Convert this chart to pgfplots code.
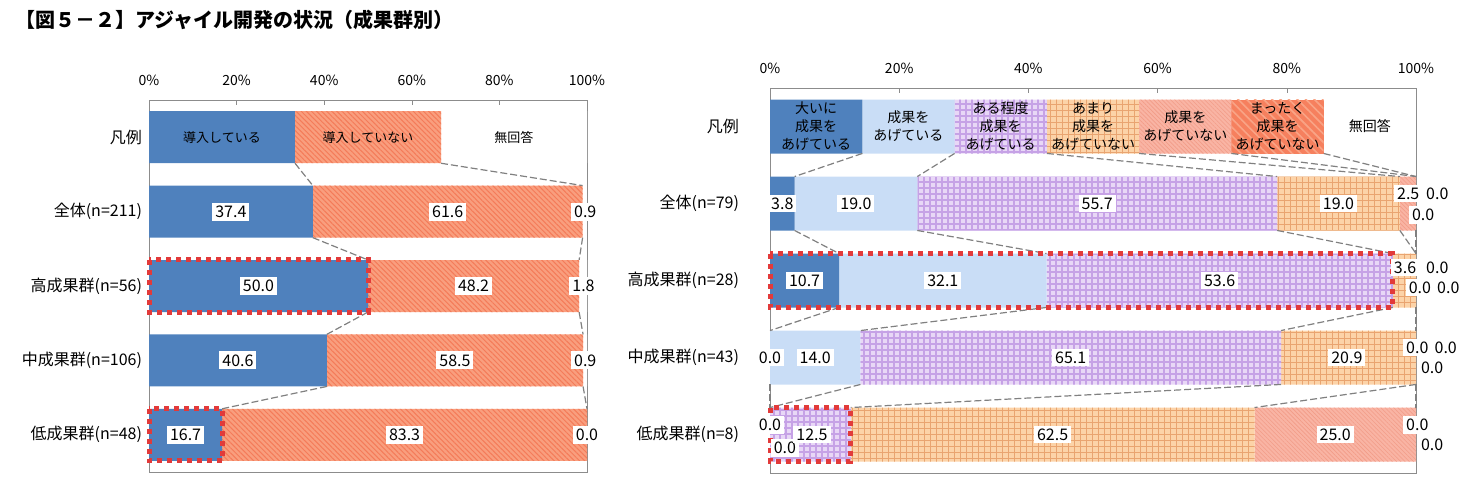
\documentclass[border=0pt]{standalone}
\usepackage{fontspec}
\setmainfont{Noto Sans CJK JP}
\usepackage{pgfplots}
\pgfplotsset{compat=1.18}
\usetikzlibrary{patterns.meta}

\definecolor{cBlue}{HTML}{4F81BD}
\definecolor{cLight}{HTML}{C9DDF6}
\definecolor{cLav}{HTML}{E8D7F6}
\definecolor{cLavL}{HTML}{C6A2E6}
\definecolor{cOra}{HTML}{FCD3A8}
\definecolor{cOraL}{HTML}{E9A470}
\definecolor{cPink}{HTML}{F9B4A4}
\definecolor{cPinkL}{HTML}{F29C88}
\definecolor{cRed}{HTML}{F6805E}
\definecolor{cRedL}{HTML}{F9A486}
\definecolor{cSal}{HTML}{F99E7E}
\definecolor{cSalL}{HTML}{F47B59}
\definecolor{cHi}{HTML}{E23A3A}

\pgfplotsset{
  geom/.style={scale only axis, anchor=north west,
    xmin=0, xmax=100, ymin=-0.5, ymax=4.5, y dir=reverse, clip=false},
  rowchart/.style={
    geom, xbar stacked,
    axis line style={draw=black!45},
    ytick={0,...,4}, ytick style={draw=none},
    xtick={0,20,...,100}, xtick pos=right, xticklabel pos=right,
    tick align=inside, major tick length=2.5pt, xtick style={draw=black!45},
    xticklabel={\pgfmathprintnumber{\tick}\%},
    xticklabel style={font=\fontsize{7}{8}\selectfont, yshift=3.5pt},
    yticklabel style={font=\fontsize{8}{9}\selectfont},
    /pgf/number format/assume math mode=true,
  },
  notes/.style={geom, hide axis},
}
\tikzset{
  vl/.style={fill=white, inner sep=1.5pt, font=\fontsize{8}{9}\selectfont},
  hl/.style={draw=cHi, line width=2.5pt, dash pattern=on 2.5pt off 2.5pt},
  conn/.style={draw=black!50, line width=0.6pt, dash pattern=on 3.5pt off 1.5pt},
}

\begin{document}
\begin{tikzpicture}[x=1pt,y=1pt]
\useasboundingbox (0,0) rectangle (736,-241);
\node[anchor=west, font=\bfseries\fontsize{10}{12}\selectfont] at (4,-10) {【図５－２】アジャイル開発の状況（成果群別）};

% left: 導入状況 (bars)
\begin{axis}[rowchart, at={(74.5pt,-50pt)}, width=219pt, height=186pt, bar width=26pt,
  yticklabels={{凡例},{全体(n=211)},{高成果群(n=56)},{中成果群(n=106)},{低成果群(n=48)}}]
\addplot[fill=cBlue, draw=none] coordinates {(33.33,0) (37.4,1) (50.0,2) (40.6,3) (16.7,4)};
\addplot[fill=cSal, draw=none, postaction={pattern color=cSalL, pattern={Lines[angle=-45,distance=1.8pt,line width=0.5pt]}}]
  coordinates {(33.34,0) (61.6,1) (48.2,2) (58.5,3) (83.3,4)};
\addplot[fill=white, draw=none] coordinates {(33.33,0) (0.9,1) (1.8,2) (0.9,3) (0.0,4)};
\end{axis}

% left: labels, connectors, highlight
\begin{axis}[notes, at={(74.5pt,-50pt)}, width=219pt, height=186pt]
\foreach \a/\b/\r in {33.33/37.4/0, 66.67/99.0/0, 37.4/50/1, 99.0/98.2/1,
                      50/40.6/2, 98.2/99.1/2, 40.6/16.7/3, 99.1/100/3}{
  \edef\temp{\noexpand\draw[conn] (axis cs:\a,\r.35) -- (axis cs:\b,\r.65);}\temp}

\draw[hl] (axis cs:0,1.65) rectangle (axis cs:50,2.35);
\draw[hl] (axis cs:0,3.65) rectangle (axis cs:16.7,4.35);

\node[font=\fontsize{6.5}{7}\selectfont] at (axis cs:16.67,0) {導入している};
\node[font=\fontsize{6.5}{7}\selectfont] at (axis cs:50,0) {導入していない};
\node[font=\fontsize{6.5}{7}\selectfont] at (axis cs:83.33,0) {無回答};

\node[vl] at (axis cs:18.7,1) {37.4};
\node[vl] at (axis cs:68.2,1) {61.6};
\node[vl] at (axis cs:99.6,1) {0.9};
\node[vl] at (axis cs:25,2) {50.0};
\node[vl] at (axis cs:74.1,2) {48.2};
\node[vl] at (axis cs:99.2,2) {1.8};
\node[vl] at (axis cs:20.3,3) {40.6};
\node[vl] at (axis cs:69.85,3) {58.5};
\node[vl] at (axis cs:99.6,3) {0.9};
\node[vl] at (axis cs:8.35,4) {16.7};
\node[vl] at (axis cs:58.35,4) {83.3};
\node[vl] at (axis cs:100,4) {0.0};
\end{axis}

% right: 成果の状況 (bars)
\begin{axis}[rowchart, at={(385pt,-44pt)}, width=323pt, height=192.5pt, bar width=27pt,
  yticklabel style={xshift=-12pt},
  yticklabels={{凡例},{全体(n=79)},{高成果群(n=28)},{中成果群(n=43)},{低成果群(n=8)}}]
\addplot[fill=cBlue, draw=none] coordinates {(14.286,0) (3.8,1) (10.7,2) (0.0,3) (0.0,4)};
\addplot[fill=cLight, draw=none] coordinates {(14.286,0) (19.0,1) (32.1,2) (14.0,3) (0.0,4)};
\addplot[fill=cLav, draw=none, postaction={pattern color=cLavL, pattern={Hatch[angle=0,distance=3pt,line width=0.8pt]}}]
  coordinates {(14.286,0) (55.7,1) (53.6,2) (65.1,3) (12.5,4)};
\addplot[fill=cOra, draw=none, postaction={pattern color=cOraL, pattern={Hatch[angle=0,distance=3pt,line width=0.4pt]}}]
  coordinates {(14.286,0) (19.0,1) (3.6,2) (20.9,3) (62.5,4)};
\addplot[fill=cPink, draw=none, postaction={pattern color=cPinkL, pattern={Lines[angle=-45,distance=1.5pt,line width=0.3pt]}}]
  coordinates {(14.286,0) (2.5,1) (0.0,2) (0.0,3) (25.0,4)};
\addplot[fill=cRed, draw=none, postaction={pattern color=cRedL, pattern={Lines[angle=-45,distance=3pt,line width=0.8pt]}}]
  coordinates {(14.286,0) (0.0,1) (0.0,2) (0.0,3) (0.0,4)};
\addplot[fill=white, draw=none] coordinates {(14.284,0) (0.0,1) (0.0,2) (0.0,3) (0.0,4)};
\end{axis}

% right: labels, connectors, highlight
\begin{axis}[notes, at={(385pt,-44pt)}, width=323pt, height=192.5pt]
\foreach \a/\b/\r in {14.29/3.8/0, 28.57/22.8/0, 42.86/78.5/0, 57.14/97.5/0, 71.43/100/0, 85.71/100/0,
                      3.8/10.7/1, 22.8/42.8/1, 78.5/96.4/1, 97.5/100/1, 100/100/1,
                      10.7/0/2, 42.8/14/2, 96.4/79.1/2, 100/100/2,
                      0/0/3, 14/0/3, 79.1/12.5/3, 100/75/3, 100/100/3}{
  \edef\temp{\noexpand\draw[conn] (axis cs:\a,\r.35) -- (axis cs:\b,\r.65);}\temp}

\draw[hl] (axis cs:0,1.65) rectangle (axis cs:96.4,2.35);
\draw[hl] (axis cs:0,3.65) rectangle (axis cs:12.5,4.35);

\node[align=center, font=\fontsize{7}{9}\selectfont] at (axis cs:7.14,0) {大いに\\成果を\\あげている};
\node[align=center, font=\fontsize{7}{9}\selectfont] at (axis cs:21.43,0) {成果を\\あげている};
\node[align=center, font=\fontsize{7}{9}\selectfont] at (axis cs:35.71,0) {ある程度\\成果を\\あげている};
\node[align=center, font=\fontsize{7}{9}\selectfont] at (axis cs:50.0,0) {あまり\\成果を\\あげていない};
\node[align=center, font=\fontsize{7}{9}\selectfont] at (axis cs:64.29,0) {成果を\\あげていない};
\node[align=center, font=\fontsize{7}{9}\selectfont] at (axis cs:78.57,0) {まったく\\成果を\\あげていない};
\node[align=center, font=\fontsize{7}{9}\selectfont] at (axis cs:92.86,0) {無回答};

\node[vl] at (axis cs:1.9,1) {3.8};
\node[vl] at (axis cs:13.3,1) {19.0};
\node[vl] at (axis cs:50.65,1) {55.7};
\node[vl] at (axis cs:88.0,1) {19.0};
\node[vl] at (axis cs:98.8,0.87) {2.5};
\node[vl] at (axis cs:103.3,0.87) {0.0};
\node[vl] at (axis cs:101.1,1.15) {0.0};

\node[vl] at (axis cs:5.35,2) {10.7};
\node[vl] at (axis cs:26.75,2) {32.1};
\node[vl] at (axis cs:69.6,2) {53.6};
\node[vl] at (axis cs:98.3,1.83) {3.6};
\node[vl] at (axis cs:103.3,1.83) {0.0};
\node[vl] at (axis cs:100.6,2.09) {0.0};
\node[vl] at (axis cs:105,2.09) {0.0};

\node[vl] at (axis cs:0,3) {0.0};
\node[vl] at (axis cs:7.0,3) {14.0};
\node[vl] at (axis cs:46.55,3) {65.1};
\node[vl] at (axis cs:89.3,3) {20.9};
\node[vl] at (axis cs:100.2,2.87) {0.0};
\node[vl] at (axis cs:104.6,2.87) {0.0};
\node[vl] at (axis cs:102.5,3.13) {0.0};

\node[vl] at (axis cs:0,3.88) {0.0};
\node[vl] at (axis cs:2.3,4.17) {0.0};
\node[vl] at (axis cs:6.5,4) {12.5};
\node[vl] at (axis cs:43.75,4) {62.5};
\node[vl] at (axis cs:87.5,4) {25.0};
\node[vl] at (axis cs:100.2,3.88) {0.0};
\node[vl] at (axis cs:102.5,4.14) {0.0};
\end{axis}
\end{tikzpicture}
\end{document}
